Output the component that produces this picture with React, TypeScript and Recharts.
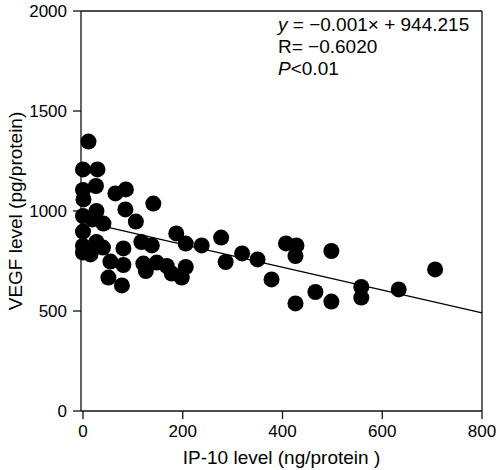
import { ReferenceLine, Scatter, ScatterChart, XAxis, YAxis } from 'recharts';

// IP-10 (ng/protein) vs VEGF (pg/protein)
const ip10 = [
  11, 0, 29, 26, 0, 1, 65, 86, 85, 141, 27, 0, 41, 106, 0, 187, 206, 238, 277, 117,
  138, 27, 40, 81, 0, 15, 55, 81, 121, 126, 148, 168, 178, 198, 206, 51, 78, 286, 319, 350,
  407, 428, 426, 498, 378, 466, 426, 498, 558, 558, 633, 706, 19, 0,
];
const vegf = [
  1347, 1208, 1208, 1125, 1105, 1058, 1088, 1108, 1008, 1037, 1000, 975, 937, 947, 897, 888, 837, 828, 867, 845,
  828, 845, 817, 813, 792, 783, 747, 730, 737, 700, 742, 725, 687, 667, 720, 667, 628, 745, 788, 758,
  838, 828, 775, 800, 658, 595, 538, 547, 620, 567, 608, 708, 958, 825,
];

const xTicks = [0, 200, 400, 600, 800];
const yTicks = [0, 500, 1000, 1500, 2000];

// fitted line as drawn in the figure
const fitIntercept = 947;
const fitSlope = -0.57;
const fitRange = [0, 800];

const points = ip10.map((x, i) => ({ x, y: vegf[i] }));
const fitSegment = fitRange.map((x) => ({ x, y: fitIntercept + fitSlope * x }));

const font = '"Liberation Sans", Arial, sans-serif';
const tickStyle = { fill: '#000', fontSize: 17, fontFamily: font };
const titleStyle = { fill: '#000', fontSize: 19, fontFamily: font };

function Dot(props: any) {
  return <circle cx={props.cx} cy={props.cy} r={8} fill="#000" />;
}

export default function App() {
  return (
    <div style={{ position: 'absolute', left: 0, top: 0, background: '#fff' }}>
      <ScatterChart width={500} height={470} margin={{ top: 11, right: 18, bottom: 0, left: 0 }}>
        <XAxis
          type="number"
          dataKey="x"
          domain={[-4, 800]}
          ticks={xTicks}
          height={59}
          stroke="#111"
          strokeWidth={1.3}
          tickSize={8}
          tickMargin={6}
          tick={tickStyle}
          label={{ value: 'IP-10 level (ng/protein )', position: 'insideBottom', offset: 6, style: titleStyle }}
        />
        <YAxis
          type="number"
          dataKey="y"
          domain={[0, 2000]}
          ticks={yTicks}
          width={81}
          stroke="#111"
          strokeWidth={1.3}
          tickSize={8}
          tickMargin={6}
          tick={tickStyle}
          label={{
            value: 'VEGF level (pg/protein)',
            angle: -90,
            position: 'insideLeft',
            offset: 15,
            style: { ...titleStyle, textAnchor: 'middle' },
          }}
        />
        <ReferenceLine y={2000} stroke="#111" strokeWidth={1.3} />
        <ReferenceLine x={800} stroke="#111" strokeWidth={1.3} />
        <ReferenceLine segment={fitSegment} stroke="#000" strokeWidth={1.3} />
        <Scatter data={points} shape={Dot} isAnimationActive={false} />
        <text x={278} y={31} fontSize={19} fontFamily={font} fill="#000">
          <tspan fontStyle="italic">y</tspan> = −0.001× + 944.215
        </text>
        <text x={278} y={53} fontSize={19} fontFamily={font} fill="#000">
          R= −0.6020
        </text>
        <text x={278} y={75} fontSize={19} fontFamily={font} fill="#000">
          <tspan fontStyle="italic">P</tspan>&lt;0.01
        </text>
      </ScatterChart>
    </div>
  );
}
